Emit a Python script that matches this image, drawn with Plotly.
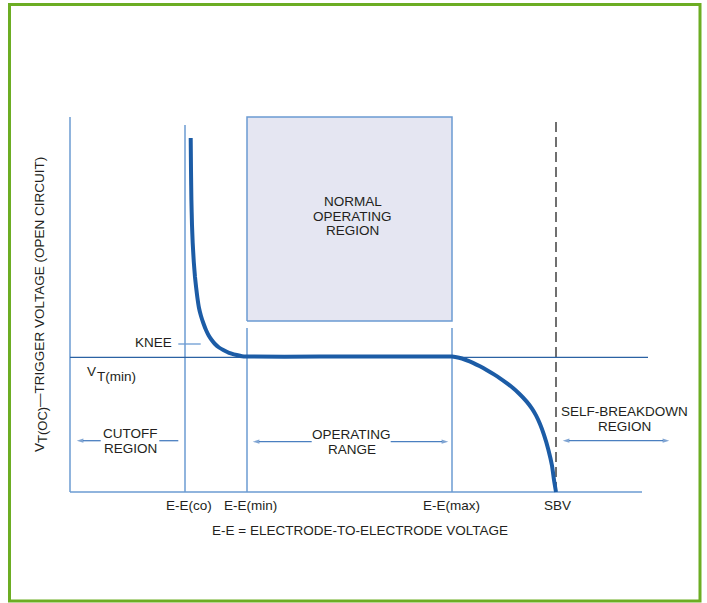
import plotly.graph_objects as go

# ---------------- data (arbitrary units: x = E-E voltage, y = trigger voltage)
ee_co = 115.0
ee_min = 177.0
ee_max = 382.0
sbv = 486.0
vt_min = 134.7
axis_top = 375.0
axis_right = 572.0
vt_line_end = 578.0
co_line_top = 367.0
range_line_top = 164.0
box_bottom = 171.0

tick_vals = [118.7, 180.0, 381.7, 487.3]
tick_labels = ["E-E(co)", "E-E(min)", "E-E(max)", "SBV"]

curve_x = [120.7, 121.0, 121.4, 122.0, 122.7, 123.8, 125.0, 126.2, 127.3, 129.0, 131.0, 133.3,
           136.0, 138.7, 141.7, 145.0, 149.0, 153.3, 159.0, 166.7, 172.0, 177.0,
           250.0, 320.0, 382.0,
           389.0, 396.0, 403.0, 410.0, 417.0, 424.0, 430.0, 436.7, 443.0, 449.0, 456.7,
           462.0, 466.0, 470.0, 474.0, 478.3, 482.0, 484.0, 486.0]
curve_y = [354.0, 322.0, 292.0, 267.0, 249.0, 230.0, 215.0, 204.0, 195.0, 184.0, 176.0, 169.0,
           162.0, 156.5, 152.0, 148.0, 144.5, 142.0, 139.2, 137.0, 135.7, 135.4,
           135.4, 135.4, 135.4,
           134.2, 132.0, 129.2, 125.7, 121.8, 117.6, 113.7, 108.9, 103.9, 98.5, 90.4,
           83.4, 76.6, 68.0, 57.2, 42.6, 26.3, 12.0, 0.0]

FONT = "Liberation Sans, Arial, Helvetica, sans-serif"
TXT = "#231f20"
AX = "#6b9bd2"
DARK = "#2b62a3"
CURVE = "#1c5ca6"
ARW = "#4a7fc0"
GREEN = "#6cad23"

fig = go.Figure()

def seg(xs, ys, color, width, dash=None):
    fig.add_trace(go.Scatter(x=xs, y=ys, mode="lines",
                             line=dict(color=color, width=width, dash=dash),
                             hoverinfo="skip", showlegend=False))

def arrow(x_tail, x_head, y):
    fig.add_trace(go.Scatter(x=[x_tail, x_head], y=[y, y], mode="lines+markers",
                             line=dict(color=ARW, width=1.3),
                             marker=dict(symbol="arrow", angleref="previous", size=[0, 7],
                                         color=ARW, line=dict(width=0)),
                             hoverinfo="skip", showlegend=False))

# normal operating region box
fig.add_trace(go.Scatter(x=[ee_min, ee_max, ee_max, ee_min, ee_min],
                         y=[box_bottom, box_bottom, axis_top, axis_top, box_bottom],
                         mode="lines", fill="toself", fillcolor="#e5e6f2",
                         line=dict(color=AX, width=1.5), hoverinfo="skip", showlegend=False))

# axes
seg([0, 0], [0, axis_top], AX, 1.5)
seg([0, axis_right], [0, 0], AX, 1.5)
# vertical markers
seg([ee_co, ee_co], [0, co_line_top], AX, 1.5)
seg([ee_min, ee_min], [0, range_line_top], AX, 1.5)
seg([ee_max, ee_max], [0, range_line_top], AX, 1.5)
seg([sbv, sbv], [0, axis_top], "#333333", 1.4, dash="10px,5px")
# VT(min) line
seg([0, vt_line_end], [vt_min, vt_min], DARK, 1.2)
# knee tick
seg([108.3, 130.7], [148.0, 148.0], AX, 1.3)
# cutoff right line
seg([89.3, 108.3], [51.3, 51.3], ARW, 1.3)

# region arrows
arrow(30.7, 6.7, 51.3)
arrow(241.7, 182.7, 50.3)
arrow(320.7, 378.3, 50.3)
arrow(546.0, 492.7, 51.3)
arrow(546.0, 599.3, 51.3)

# curve
fig.add_trace(go.Scatter(x=curve_x, y=curve_y, mode="lines",
                         line=dict(color=CURVE, width=4, shape="spline", smoothing=0.5),
                         hoverinfo="skip", showlegend=False))

ann = []
def text(x, y, s, xanchor="center", size=13.5, angle=0):
    ann.append(dict(x=x, y=y, xref="x", yref="y", text=s, showarrow=False,
                    xanchor=xanchor, yanchor="middle", textangle=angle,
                    font=dict(family=FONT, size=size, color=TXT)))

text(282.5, 290.3, "NORMAL")
text(282.5, 276.0, "OPERATING")
text(282.5, 261.3, "REGION")
text(104.0, 150.0, "KNEE", xanchor="right")
text(15.0, 121.0, "V", xanchor="left")
text(25.0, 116.0, "T(min)", xanchor="left")
text(60.7, 58.3, "CUTOFF")
text(60.7, 43.7, "REGION")
text(281.7, 57.7, "OPERATING")
text(281.7, 42.7, "RANGE")
text(554.2, 80.3, "SELF-BREAKDOWN")
text(554.2, 65.3, "REGION")
for tv, tl in zip(tick_vals, tick_labels):
    text(tv, -13.5, tl)
text(290.0, -38.0, "E-E = ELECTRODE-TO-ELECTRODE VOLTAGE")
text(-29.0, 187.0, 'V<sub><span style="font-size:13px">T(OC)</span></sub>—TRIGGER VOLTAGE (OPEN CIRCUIT)',
     angle=-90)

fig.update_layout(
    width=707, height=603,
    margin=dict(l=0, r=0, t=0, b=0),
    paper_bgcolor="white", plot_bgcolor="white",
    xaxis=dict(range=[-70, 637], visible=False, domain=[0, 1], fixedrange=True),
    yaxis=dict(range=[-111, 492], visible=False, domain=[0, 1], fixedrange=True),
    hovermode=False,
    annotations=ann,
    shapes=[dict(type="rect", xref="paper", yref="paper",
                 x0=9.5 / 707, x1=700 / 707, y0=1 - 601 / 603, y1=1 - 4.5 / 603,
                 line=dict(color=GREEN, width=3), fillcolor="rgba(0,0,0,0)")],
)

fig.write_html("out.html", config={"displayModeBar": False},
               post_script="document.body.style.margin='0';document.body.style.overflow='hidden';")
